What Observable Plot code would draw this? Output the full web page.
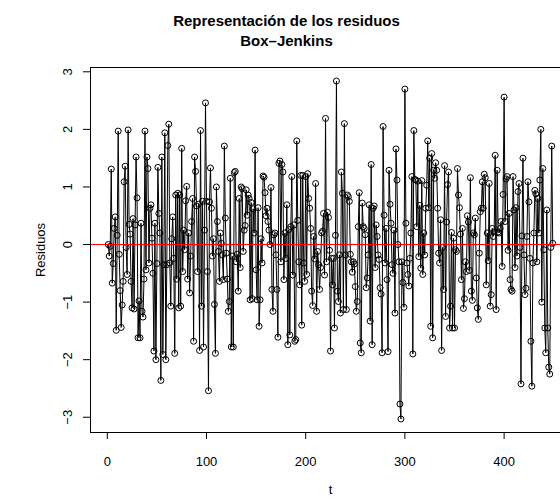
<!DOCTYPE html>
<html><head><meta charset="utf-8">
<script src="https://cdn.jsdelivr.net/npm/d3@7"></script>
<script src="https://cdn.jsdelivr.net/npm/@observablehq/plot@0.6"></script>
<style>
html,body{margin:0;padding:0;background:#fff;overflow:hidden}
#chart{width:560px;height:499px;overflow:hidden}
</style></head><body><div id="chart"></div>
<script>
const title1 = "Representación de los residuos";
const title2 = "Box–Jenkins";
const xLabel = "t";
const yLabel = "Residuos";
const xTicks = [0, 100, 200, 300, 400];
const yTicks = [-3, -2, -1, 0, 1, 2, 3];

// residuals, t = 1 .. 449
const residuos = [
  0.0, -0.2, -0.03, 1.31, -0.67, -0.33, 0.28, 0.48, -1.49, 0.16, 1.97, -0.17, -0.8, -1.44, -1.05, -0.64,
  1.09, 1.36, -0.05, -0.52, 1.99, 0.35, 0.18, -0.64, -1.1, 0.45, -1.12, 0.34, 1.52, 0.81, -1.62, -0.98,
  -1.62, 0.37, -1.16, -1.26, -0.6, 1.97, -0.44, 1.52, 1.32, -0.32, 0.63, 0.69, 0.11, -0.5, -1.85, 0.37,
  -2.0, -0.33, 1.34, 0.54, 0.2, -2.36, 1.52, -1.91, -0.35, 1.94, -2.0, -0.35, 1.72, 2.09, -0.32, -1.07,
  0.1, 0.48, -0.24, -1.89, 0.86, -0.6, 0.89, -1.1, 0.86, -1.07, 1.67, -0.47, 0.25, -0.09,
  0.76, 1.01, -0.6, 0.2, -0.84, -0.2, 0.4, 0.8, -1.68, 1.52, 1.27, 0.67, -0.47, 0.7, -1.84, 1.98,
  -1.07, 0.75, -1.78, 0.25, 2.46, 0.75, -0.47, -2.54, 0.74, 1.33, 0.63, -0.2, 0.1, -1.04, -1.89, 1.0,
  0.4, -0.12, -0.64, 0.2, 0.02, -0.18, -0.61, 1.71, 0.46, -0.15, -0.6, -1.16, -0.99, 1.15, -1.78, -0.2,
  -1.78, 1.25, 1.27, -0.3, -0.17, -0.81, 0.8, -0.4, 1.0, 0.97, -0.12, 0.25, 0.33, 0.95, 0.51, 0.86,
  0.8, -0.96, 0.73, -0.94, 0.62, 0.2, 1.64, -0.44, -0.96, 0.64, -1.42, -0.96, 0.1, -0.32, 1.19, 1.17,
  0.9, 0.5, 0.63, 0.4, 0.25, 0.0, 0.99, -0.78, -1.16, 0.17, 0.2, -0.18, -0.78, -1.61, 1.41,
  1.45, -0.3, 1.39, 1.26, -0.61, 0.2, -0.24, 0.69, -1.74, 0.26, -1.57, 0.31, 1.18, -0.53, 0.34, -1.68,
  -1.65, 1.8, 0.42, -0.3, -0.7, 1.2, -1.4, 1.2, -0.32, -0.64, 1.18, -0.52, 1.23, 0.8, 0.63, 0.28,
  -0.81, -1.06, 0.14, -0.25, 1.06, -1.16, -0.12, -0.35, -0.78, -0.4, 0.2, 0.23, 0.54, -0.53, 2.19, -0.3,
  0.56, 0.47, -0.1, -1.85, -0.24, -0.7, -0.24, -1.45, 0.16, 2.84, -0.81, -0.99, -0.18, -1.19, 1.26, 0.89,
  -1.13, 2.1, -0.18, -1.13, 0.86, 0.83, 0.75, -0.17, -0.3, -0.48, -0.3, -0.34, -0.73, -1.16, -0.99, 0.31,
  0.9, -1.71, -1.88, 0.72, 0.31, 0.28, 0.17, -0.75, -0.58, -0.18, 0.69, -1.33, 1.39, -1.74, 0.63,
  0.67, -0.4, 0.34, 0.14, -0.18, -0.26, -0.75, -0.86, -1.88, 2.05, 0.51, -0.32, 0.28, -0.61, -1.86, 1.29,
  0.7, 0.37, -0.35, -0.5, 0.25, -1.19, 1.66, 1.12, 0.0, -0.3, -2.77, -3.03, -0.3, -0.66, -1.09, 2.7,
  0.37, -0.32, -0.52, -0.72, -0.24, 0.2, 1.18, -1.9, 1.98, 1.13, 1.12, 0.31, 1.1, -0.21, 0.68, -0.41,
  1.11, -0.52, 0.2, -0.18, 0.63, 1.03, 1.8, 0.64, 1.5, -1.42, 1.58, -1.62, 1.29, 1.15, 1.42, 1.29,
  0.63, -0.15, -0.32, 0.43, -1.84, -0.05, -0.78, 1.37, -1.25, 0.39, 1.04, 1.26, -1.45, -1.07, 0.21, -1.45,
  0.11, -1.45, -0.09, -0.12, 1.32, 0.86, 0.64, 0.18, -0.61, 0.28, -1.11, -0.94, -0.3, -0.47, 0.5,
  0.39, -0.45, 1.16, -0.81, -0.97, 0.2, 0.17, 0.46, -0.58, -1.1, -1.3, -0.15, 0.57, 0.63, 1.09, 0.63,
  1.22, 1.16, -0.7, 0.2, -0.28, 1.06, -1.07, -0.87, 0.28, 0.14, 0.22, 1.55, -1.13, 1.29, 0.22, 0.2,
  0.28, 0.4, -0.38, 0.87, 2.56, 0.4, 1.14, 1.18, -0.1, 0.54, -0.61, -0.78, -0.81,
  1.18, 0.6, -0.4, 0.64, -0.2, 0.92, 1.06, -0.05, -2.42, 0.15, 1.5, -0.18, -0.87, -0.76, 0.14, 1.09,
  0.74, -0.24, -1.68, -2.46, -0.32, 0.2, 0.94, 0.88, -0.3, 0.8, 0.2, 1.12, 2.0, -1.0, 1.32, -0.09,
  -1.45, -1.88, 0.6, -1.45, -2.13, -2.25, -0.05, 1.71, 0.02
];

const data = residuos.map((r, i) => ({t: i + 1, r}));

// R-style 4% padding of the data range
const pad = ([a, b]) => [a - 0.04 * (b - a), b + 0.04 * (b - a)];
const xDomain = pad([1, residuos.length]);
const yDomain = pad(d3.extent(residuos));
const fmt = (d) => (d < 0 ? "\u2212" + Math.abs(d) : String(d));

const chart = Plot.plot({
  width: 560,
  height: 499,
  marginLeft: 90,
  marginRight: -10,
  marginTop: 67,
  marginBottom: 67,
  style: {fontFamily: "'Liberation Sans', Arial, Helvetica, sans-serif", fontSize: "13px", background: "white", color: "black", overflow: "hidden"},
  x: {domain: xDomain},
  y: {domain: yDomain},
  marks: [
    Plot.line(data, {x: "t", y: "r", stroke: "black", strokeWidth: 1}),
    Plot.dot(data, {x: "t", y: "r", r: 3, stroke: "black", fill: "none", strokeWidth: 1}),
    Plot.ruleY([0], {stroke: "red", strokeWidth: 1}),
    Plot.frame({stroke: "black", strokeWidth: 1}),
    Plot.axisX({ticks: xTicks, tickSize: 7, tickPadding: 17, tickFormat: fmt, label: null, fontSize: 13}),
    Plot.axisY({ticks: yTicks, tickSize: 7, tickFormat: () => "", label: null}),
    Plot.text(yTicks, {y: (d) => d, text: fmt, frameAnchor: "left", dx: -23, rotate: -90, fontSize: 13, textAnchor: "middle", lineAnchor: "middle"}),
    Plot.text([yLabel], {text: (d) => d, frameAnchor: "left", dx: -50, rotate: -90, fontSize: 13, textAnchor: "middle", lineAnchor: "middle"}),
    Plot.text([xLabel], {text: (d) => d, frameAnchor: "bottom", dy: 57, fontSize: 13, lineAnchor: "middle"}),
    Plot.text([title1], {text: (d) => d, frameAnchor: "top", dx: -44, dy: -46, fontSize: 15, fontWeight: "bold", lineAnchor: "middle"}),
    Plot.text([title2], {text: (d) => d, frameAnchor: "top", dx: -44, dy: -26, fontSize: 15, fontWeight: "bold", lineAnchor: "middle"})
  ]
});
document.getElementById("chart").append(chart);
</script>
</body></html>
